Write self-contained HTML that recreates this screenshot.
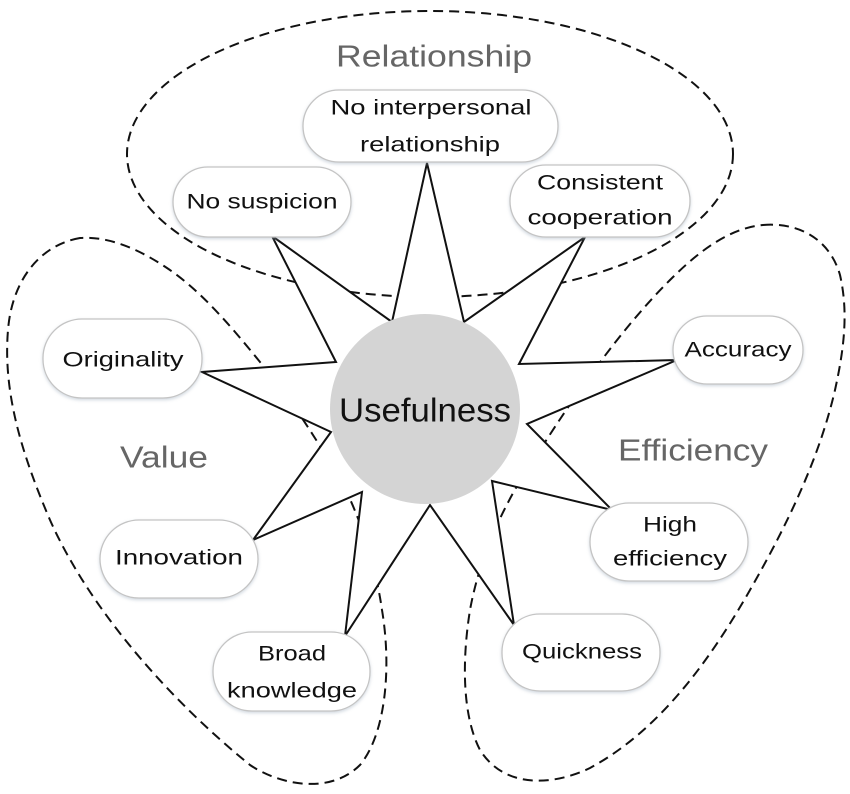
<!DOCTYPE html>
<html><head><meta charset="utf-8"><style>
html,body{margin:0;padding:0;background:#fff;}
svg{display:block;}
text{font-family:"Liberation Sans",sans-serif;}
</style></head><body>
<svg width="850" height="794" viewBox="0 0 850 794" xmlns="http://www.w3.org/2000/svg">
<defs>
<filter id="sh" x="-10%" y="-10%" width="120%" height="130%">
<feDropShadow dx="0" dy="1.5" stdDeviation="1.5" flood-color="#9ab" flood-opacity="0.45"/>
</filter>
</defs>
<g fill="none" stroke="#111" stroke-width="2" stroke-dasharray="10,6">
<ellipse cx="430" cy="154" rx="303" ry="143"/>
<path d="M80,238 C40,245 12,280 8,330 C3,390 20,450 50,520 C90,610 170,700 250,765 C280,785 330,795 360,765 C385,735 392,670 382,610 C375,560 355,500 330,462 C310,430 285,390 260,362 C230,325 200,290 167,268 C140,250 110,236 80,238 Z"/>
<path d="M763,225 C800,222 830,240 840,275 C848,310 845,345 835,390 C820,455 790,520 750,590 C710,660 660,730 590,768 C555,785 505,790 480,750 C462,715 462,660 470,610 C480,555 505,500 540,450 C575,395 620,330 670,280 C700,250 730,228 763,225 Z"/>
</g>
<polygon fill="#fff" stroke="#111" stroke-width="2" stroke-linejoin="miter" points="427,163 464,322 585,237 519,364 677,360 527,424 612,510 492,481 514,625 430,505 345,636 362,492 253,540 331,432 202,372 336,362 272,236 392,322"/>
<circle cx="425" cy="409" r="95" fill="#d4d4d4"/>
<text x="425" y="410" font-size="33" text-anchor="middle" dominant-baseline="central" fill="#111" textLength="172" lengthAdjust="spacingAndGlyphs">Usefulness</text>
<g fill="#666" font-size="31" text-anchor="middle" dominant-baseline="central">
<text x="434" y="56" textLength="196" lengthAdjust="spacingAndGlyphs">Relationship</text>
<text x="164" y="457" textLength="88" lengthAdjust="spacingAndGlyphs">Value</text>
<text x="693" y="450" textLength="150" lengthAdjust="spacingAndGlyphs">Efficiency</text>
</g>
<g fill="#fff" stroke="#c4c4c4" stroke-width="1.3" filter="url(#sh)">
<rect x="303" y="90" width="255" height="72" rx="36"/>
<rect x="173" y="167" width="178" height="70" rx="35"/>
<rect x="510" y="165" width="180" height="72" rx="36"/>
<rect x="43" y="319" width="159" height="79" rx="39"/>
<rect x="673" y="316" width="130" height="68" rx="34"/>
<rect x="100" y="520" width="158" height="78" rx="39"/>
<rect x="590" y="503" width="158" height="78" rx="39"/>
<rect x="502" y="614" width="158" height="77" rx="38"/>
<rect x="213" y="632" width="157" height="79" rx="39"/>
</g>
<g fill="#111" font-size="21" text-anchor="middle" dominant-baseline="central">
<text x="431" y="108" textLength="201" lengthAdjust="spacingAndGlyphs">No interpersonal</text>
<text x="430" y="145" textLength="140" lengthAdjust="spacingAndGlyphs">relationship</text>
<text x="262" y="202" textLength="151" lengthAdjust="spacingAndGlyphs">No suspicion</text>
<text x="600" y="183" textLength="126" lengthAdjust="spacingAndGlyphs">Consistent</text>
<text x="600" y="218" textLength="145" lengthAdjust="spacingAndGlyphs">cooperation</text>
<text x="123" y="360" textLength="121" lengthAdjust="spacingAndGlyphs">Originality</text>
<text x="738" y="350" textLength="107" lengthAdjust="spacingAndGlyphs">Accuracy</text>
<text x="179" y="558" textLength="128" lengthAdjust="spacingAndGlyphs">Innovation</text>
<text x="670" y="525" textLength="54" lengthAdjust="spacingAndGlyphs">High</text>
<text x="670" y="559" textLength="114" lengthAdjust="spacingAndGlyphs">efficiency</text>
<text x="582" y="652" textLength="120" lengthAdjust="spacingAndGlyphs">Quickness</text>
<text x="292" y="654" textLength="68" lengthAdjust="spacingAndGlyphs">Broad</text>
<text x="292" y="691" textLength="130" lengthAdjust="spacingAndGlyphs">knowledge</text>
</g>
</svg>
</body></html>
